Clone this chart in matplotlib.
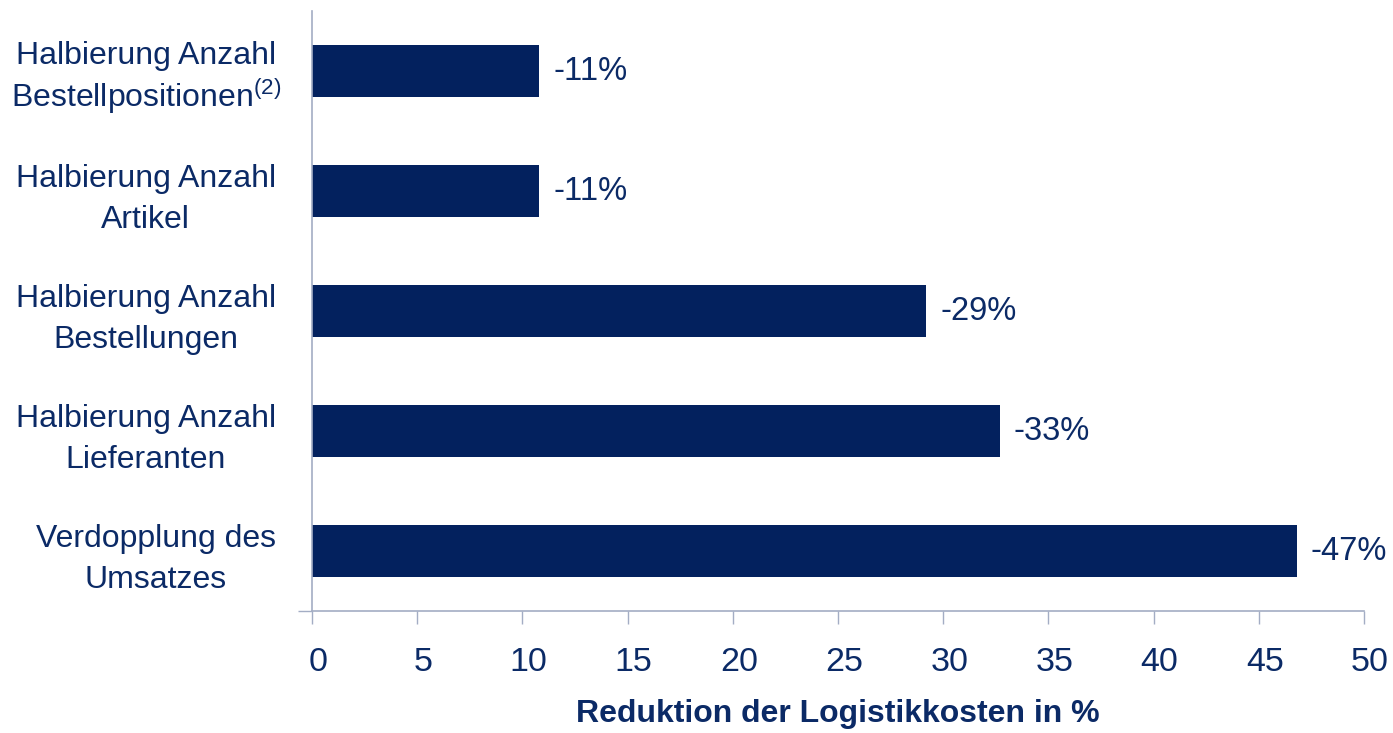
import matplotlib
matplotlib.use("Agg")
import matplotlib.pyplot as plt
import matplotlib.transforms as mtransforms

plt.rcParams['font.family'] = ['Liberation Sans', 'DejaVu Sans']
plt.rcParams['mathtext.fontset'] = 'custom'
plt.rcParams['mathtext.rm'] = 'Liberation Sans'

# data, bottom to top
categories = [
    "Verdopplung des\nUmsatzes",
    "Halbierung Anzahl\nLieferanten",
    "Halbierung Anzahl\nBestellungen",
    "Halbierung Anzahl\nArtikel",
    "Halbierung Anzahl\nBestellpositionen$^{\\mathrm{(2)}}$",
]
values = [46.8, 32.7, 29.2, 10.8, 10.8]
value_labels = ["-47%", "-33%", "-29%", "-11%", "-11%"]
x_ticks = [0, 5, 10, 15, 20, 25, 30, 35, 40, 45, 50]

navy = "#03215e"
text_col = "#0b2a66"
axis_col = "#a3adc4"

fig = plt.figure(figsize=(13.93, 7.33), dpi=100)
ax = fig.add_axes([312 / 1393, 122 / 733, 1052 / 1393, 600 / 733])

pos = list(range(len(categories)))
ax.barh(pos, values, height=0.43, color=navy)

for p, v, lab in zip(pos, values, value_labels):
    ax.annotate(lab, (v, p), xytext=(10, 0), textcoords="offset points",
                va="center", ha="left", fontsize=23.5, color=text_col)

ax.set_xlim(0, 50)
ax.set_ylim(-0.5, len(categories) - 0.5)
ax.set_xticks(x_ticks)
ax.set_xticklabels([str(t) for t in x_ticks])
ax.set_yticks(pos)
ax.set_yticklabels(categories, multialignment="center", linespacing=1.45)
ax.set_yticks([-0.5], minor=True)

ax.tick_params(axis="x", direction="out", length=9, width=1, color=axis_col,
               labelsize=24.5, labelcolor=text_col, pad=17)
ax.tick_params(axis="y", which="major", length=0, labelsize=23,
               labelcolor=text_col, pad=26)
ax.tick_params(axis="y", which="minor", direction="out", length=10, width=1,
               color=axis_col)

# shift x tick labels slightly to the right like in the source
offset = mtransforms.ScaledTranslation(6 / 100, 0, fig.dpi_scale_trans)
for lbl in ax.get_xticklabels():
    lbl.set_transform(lbl.get_transform() + offset)

# label with footnote superscript: tighter spacing, sticks out a bit to the right
top_lbl = ax.get_yticklabels()[-1]
top_lbl.set_linespacing(1.2)
top_lbl.set_transform(top_lbl.get_transform() +
                      mtransforms.ScaledTranslation(5 / 100, 0, fig.dpi_scale_trans))

for s in ["top", "right"]:
    ax.spines[s].set_visible(False)
for s in ["left", "bottom"]:
    ax.spines[s].set_color(axis_col)
    ax.spines[s].set_linewidth(1.2)

ax.set_xlabel("Reduktion der Logistikkosten in %", fontsize=23,
              fontweight="bold", color=text_col, labelpad=15)

fig.savefig("out.png", dpi=100)
